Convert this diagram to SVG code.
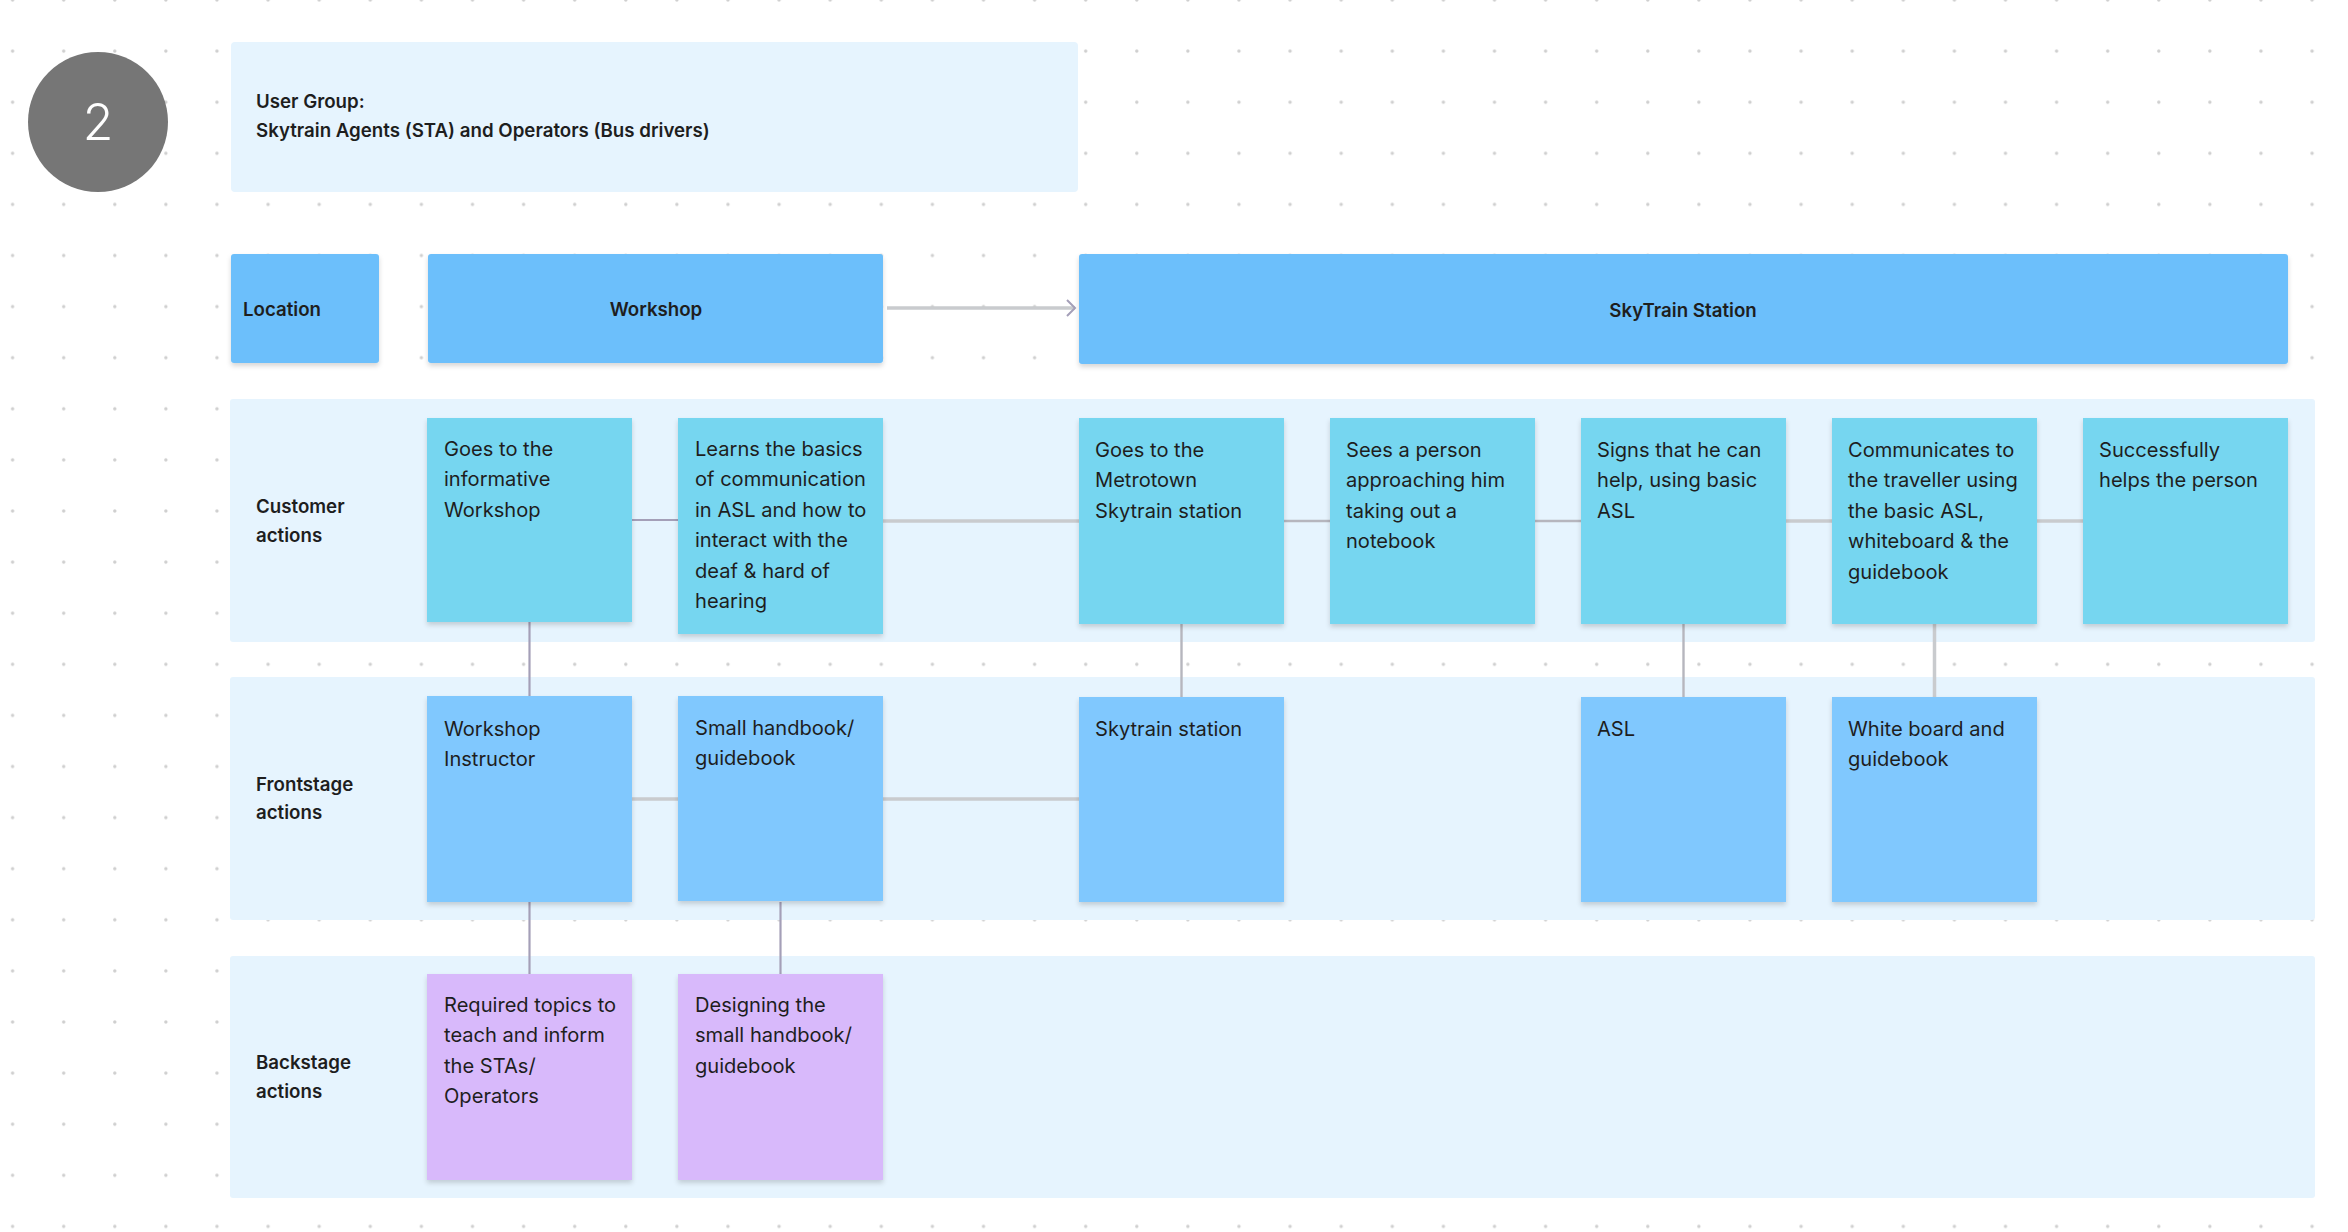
<svg xmlns="http://www.w3.org/2000/svg" width="2348" height="1232" viewBox="0 0 2348 1232">
<style>
.lbl{font-family:Inter,"Noto Sans","Liberation Sans",sans-serif;font-size:18.7px;font-weight:600;fill:#1e1e1e}
.txt{font-family:Inter,"Noto Sans","Liberation Sans",sans-serif;font-size:20.1px;font-weight:400;fill:#1e1e1e}
.lane{fill:#E6F4FE}
.hdr{fill:#6CBFFB}
.cust{fill:#76D6F0}
.front{fill:#80C8FE}
.back{fill:#D8B9FB}
.cp{stroke:#A49FB8;stroke-width:2.2;fill:none}
.cl{stroke:#C9CBCE;stroke-width:3.5;fill:none}
.cm{stroke:#B6B6BE;stroke-width:2.4;fill:none}
</style>
<defs>
<pattern id="dots" x="0" y="-25.55" width="51.1" height="51.1" patternUnits="userSpaceOnUse">
<circle cx="12.6" cy="25.55" r="1.7" fill="#cfcfcf"/>
</pattern>
<filter id="sh" x="-10%" y="-10%" width="120%" height="125%">
<feDropShadow dx="0" dy="3" stdDeviation="2.5" flood-color="#000" flood-opacity="0.16"/>
</filter>
<marker id="chev" markerWidth="14" markerHeight="20" refX="11" refY="10" orient="auto" markerUnits="userSpaceOnUse">
<path d="M3,2 L11,10 L3,18" fill="none" stroke="#A49FB8" stroke-width="2"/>
</marker>
</defs>
<rect width="2348" height="1232" fill="#ffffff"/>
<rect width="2348" height="1232" fill="url(#dots)"/>

<g id="badge">
<circle cx="98" cy="122" r="70" fill="#767676"/>
<text x="98" y="140" text-anchor="middle" font-family="Inter,'Noto Sans','Liberation Sans',sans-serif" font-size="50" font-weight="300" fill="#ffffff">2</text>
</g>

<g id="user-group">
<rect x="231" y="42" width="847" height="150" rx="4" class="lane"/>
<text class="lbl" x="256" y="108">User Group:</text>
<text class="lbl" x="256" y="137">Skytrain Agents (STA) and Operators (Bus drivers)</text>
</g>

<g id="lanes">
<rect id="lane-customer" x="230" y="399" width="2085" height="243" rx="3" class="lane"/>
<rect id="lane-frontstage" x="230" y="677" width="2085" height="243" rx="3" class="lane"/>
<rect id="lane-backstage" x="230" y="956" width="2085" height="242" rx="3" class="lane"/>
</g>

<g id="connectors">
<line x1="887" y1="308" x2="1075" y2="308" class="cl" marker-end="url(#chev)"/>
<line x1="632" y1="520" x2="678" y2="520" class="cp"/>
<line x1="883" y1="521" x2="1079" y2="521" class="cl"/>
<line x1="1284" y1="521" x2="1330" y2="521" class="cm"/>
<line x1="1535" y1="521" x2="1581" y2="521" class="cm"/>
<line x1="1786" y1="521" x2="1832" y2="521" class="cl"/>
<line x1="2037" y1="521" x2="2083" y2="521" class="cl"/>
<line x1="529.5" y1="622" x2="529.5" y2="696" class="cp"/>
<line x1="1181.5" y1="624" x2="1181.5" y2="697" class="cm"/>
<line x1="1683.5" y1="624" x2="1683.5" y2="697" class="cm"/>
<line x1="1934.5" y1="624" x2="1934.5" y2="697" class="cl"/>
<line x1="632" y1="799" x2="678" y2="799" class="cl"/>
<line x1="883" y1="799" x2="1079" y2="799" class="cl"/>
<line x1="529.5" y1="902" x2="529.5" y2="974" class="cp"/>
<line x1="780.5" y1="902" x2="780.5" y2="974" class="cp"/>
</g>

<g id="location">
<rect x="231" y="254" width="148" height="109" rx="3" class="hdr" filter="url(#sh)"/>
<text class="lbl" x="243" y="316">Location</text>
</g>
<g id="workshop">
<rect x="428" y="254" width="455" height="109" rx="3" class="hdr" filter="url(#sh)"/>
<text class="lbl" x="656" y="316" text-anchor="middle">Workshop</text>
</g>
<g id="skytrain">
<rect x="1079" y="254" width="1209" height="110" rx="3" class="hdr" filter="url(#sh)"/>
<text class="lbl" x="1683" y="317" text-anchor="middle">SkyTrain Station</text>
</g>

<g id="label-customer"><text class="lbl" x="256" y="513">Customer</text><text class="lbl" x="256" y="542">actions</text></g>
<g id="label-frontstage"><text class="lbl" x="256" y="791">Frontstage</text><text class="lbl" x="256" y="819">actions</text></g>
<g id="label-backstage"><text class="lbl" x="256" y="1069">Backstage</text><text class="lbl" x="256" y="1098">actions</text></g>

<g id="c1"><rect x="427" y="418" width="205" height="204" class="cust" filter="url(#sh)"/>
<text class="txt" x="444" y="456">Goes to the</text><text class="txt" x="444" y="486.4">informative</text><text class="txt" x="444" y="516.8">Workshop</text></g>
<g id="c2"><rect x="678" y="418" width="205" height="216" class="cust" filter="url(#sh)"/>
<text class="txt" x="695" y="456">Learns the basics</text><text class="txt" x="695" y="486.4">of communication</text><text class="txt" x="695" y="516.8">in ASL and how to</text><text class="txt" x="695" y="547.2">interact with the</text><text class="txt" x="695" y="577.6">deaf &amp; hard of</text><text class="txt" x="695" y="608">hearing</text></g>
<g id="c3"><rect x="1079" y="418" width="205" height="206" class="cust" filter="url(#sh)"/>
<text class="txt" x="1095" y="457">Goes to the</text><text class="txt" x="1095" y="487.4">Metrotown</text><text class="txt" x="1095" y="517.8">Skytrain station</text></g>
<g id="c4"><rect x="1330" y="418" width="205" height="206" class="cust" filter="url(#sh)"/>
<text class="txt" x="1346" y="457">Sees a person</text><text class="txt" x="1346" y="487.4">approaching him</text><text class="txt" x="1346" y="517.8">taking out a</text><text class="txt" x="1346" y="548.2">notebook</text></g>
<g id="c5"><rect x="1581" y="418" width="205" height="206" class="cust" filter="url(#sh)"/>
<text class="txt" x="1597" y="457">Signs that he can</text><text class="txt" x="1597" y="487.4">help, using basic</text><text class="txt" x="1597" y="517.8">ASL</text></g>
<g id="c6"><rect x="1832" y="418" width="205" height="206" class="cust" filter="url(#sh)"/>
<text class="txt" x="1848" y="457">Communicates to</text><text class="txt" x="1848" y="487.4">the traveller using</text><text class="txt" x="1848" y="517.8">the basic ASL,</text><text class="txt" x="1848" y="548.2">whiteboard &amp; the</text><text class="txt" x="1848" y="578.6">guidebook</text></g>
<g id="c7"><rect x="2083" y="418" width="205" height="206" class="cust" filter="url(#sh)"/>
<text class="txt" x="2099" y="457">Successfully</text><text class="txt" x="2099" y="487.4">helps the person</text></g>

<g id="f1"><rect x="427" y="696" width="205" height="206" class="front" filter="url(#sh)"/>
<text class="txt" x="444" y="736">Workshop</text><text class="txt" x="444" y="766.4">Instructor</text></g>
<g id="f2"><rect x="678" y="696" width="205" height="205" class="front" filter="url(#sh)"/>
<text class="txt" x="695" y="735">Small handbook/</text><text class="txt" x="695" y="765.4">guidebook</text></g>
<g id="f3"><rect x="1079" y="697" width="205" height="205" class="front" filter="url(#sh)"/>
<text class="txt" x="1095" y="736">Skytrain station</text></g>
<g id="f5"><rect x="1581" y="697" width="205" height="205" class="front" filter="url(#sh)"/>
<text class="txt" x="1597" y="736">ASL</text></g>
<g id="f6"><rect x="1832" y="697" width="205" height="205" class="front" filter="url(#sh)"/>
<text class="txt" x="1848" y="736">White board and</text><text class="txt" x="1848" y="766.4">guidebook</text></g>

<g id="b1"><rect x="427" y="974" width="205" height="206" class="back" filter="url(#sh)"/>
<text class="txt" x="444" y="1012">Required topics to</text><text class="txt" x="444" y="1042.4">teach and inform</text><text class="txt" x="444" y="1072.8">the STAs/</text><text class="txt" x="444" y="1103.2">Operators</text></g>
<g id="b2"><rect x="678" y="974" width="205" height="206" class="back" filter="url(#sh)"/>
<text class="txt" x="695" y="1012">Designing the</text><text class="txt" x="695" y="1042.4">small handbook/</text><text class="txt" x="695" y="1072.8">guidebook</text></g>
</svg>
